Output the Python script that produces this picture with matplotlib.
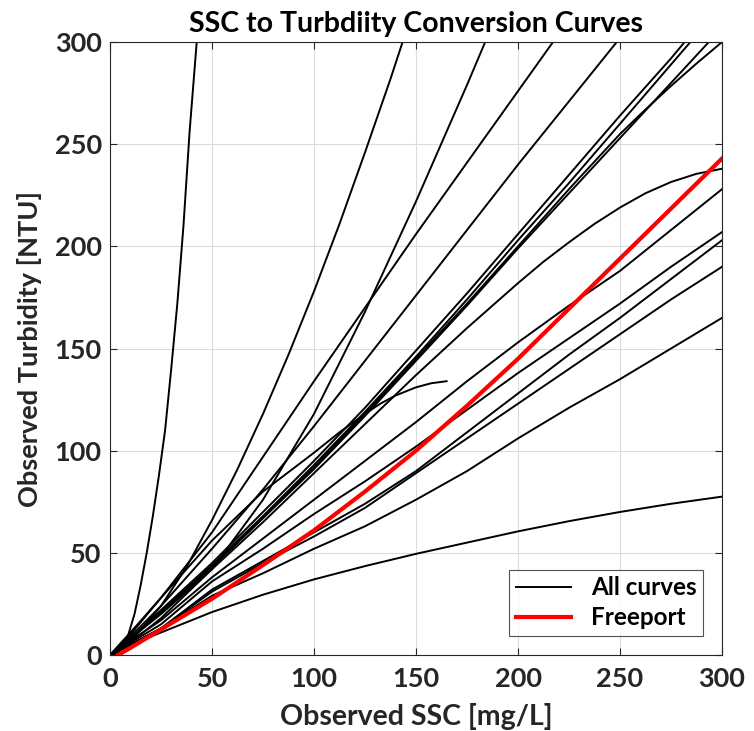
import matplotlib
matplotlib.use("Agg")
import matplotlib.pyplot as plt
import numpy as np

# ======================================================
# Setup
# ======================================================

plt.rcParams["font.family"] = ["Lato", "DejaVu Sans"]
plt.rcParams["font.weight"] = "bold"

AXIS_COLOR = "#262626"

# ======================================================
# DATA
# ======================================================

# common SSC grid for most curves [mg/L]
ssc = [0, 10, 25, 50, 75, 100, 125, 150, 175, 200, 225, 250, 275, 300]
# finer grid where curves bend more
ssc_fine = [0, 10, 25, 37.5, 50, 62.5, 75, 87.5, 100, 112.5, 125, 137.5, 150]

# steep curve on the far left
ssc_steep = [0, 3, 6, 9, 12, 15, 18, 21, 24, 27, 30, 33, 36, 39, 42.5]
ntu_steep = [0, 0.5, 3, 10, 20, 34, 50, 68, 88, 110, 140, 172, 210, 256, 300]

# curves that leave through the top of the plot
ntu_t2 = [0, 6.5, 24, 43, 66, 91, 118, 147, 178, 211, 246, 282, 320]
ntu_t3 = [0, 6, 18, 42, 76, 118, 168, 222, 279, 338]
ntu_t4 = [0, 10, 28, 60, 97, 134, 170, 206, 241, 276, 311]
ntu_t5 = [0, 9, 24, 52, 81, 112, 144, 176, 208, 240, 271, 302]
ntu_t6 = [0, 8, 22, 45, 70, 95, 121, 149, 177, 206, 235, 264, 292, 322]
ntu_t7 = [0, 8, 21, 44, 68, 93, 119, 146, 174, 203, 231, 260, 289, 318]
ntu_t8 = [0, 8, 21, 43, 67, 91, 117, 144, 171, 199, 226, 253, 280, 307]
ssc_t9 = [0, 10, 25, 50, 75, 100, 125, 150, 175, 200, 225, 250, 262.5, 275, 287.5, 300]
ntu_t9 = [0, 8, 21, 43, 67, 92, 118, 145, 172, 200, 228, 255, 267, 278.5, 289.5, 300]

# curve that stops at ~165 mg/L
ssc_short = [0, 10, 25, 50, 75, 100, 112.5, 125, 132.5, 140, 150, 157.5, 165]
ntu_short = [0, 11, 28, 56, 80, 99, 109, 118, 123, 127, 131, 133, 134]

# curves that leave through the right side
ssc_r238 = [0, 10, 25, 50, 75, 100, 125, 150, 175, 200, 212.5, 225, 237.5,
            250, 262.5, 275, 287.5, 300]
ntu_r238 = [0, 8, 20, 42, 65, 89, 113, 137, 160, 182, 192.5, 202, 211,
            219, 226, 231.5, 235.5, 238]
ntu_r228 = [0, 7, 17, 38, 57, 76, 95, 114, 134, 153, 171, 188, 208, 228]
ntu_r207 = [0, 6, 15, 36, 52, 69, 85, 102, 120, 138, 155, 172, 190, 207]
ntu_r203 = [0, 5, 13, 32, 46, 60, 74, 90, 109, 128, 147, 165, 184, 203]
ntu_r190 = [0, 5, 13, 31, 45, 58, 72, 89, 106, 123, 140, 157, 174, 190]
ntu_r164 = [0, 5, 13, 29, 40, 52, 63, 76, 90, 106, 121, 135, 150, 165]
ntu_r77 = [0, 5, 11, 21, 29.5, 37, 43.5, 49.5, 55, 60.5, 65.5, 70, 74, 77.5]

# Freeport curve
ssc_freeport = [4, 10, 25, 50, 75, 100, 125, 150, 175, 200, 225, 250, 275, 300]
ntu_freeport = [0, 3.5, 12.5, 27.5, 44, 61, 80, 100, 122, 145, 169.5, 194, 218.5, 243]

black_curves = [
    (ssc_steep, ntu_steep),
    (ssc_fine, ntu_t2),
    (ssc[:len(ntu_t3)], ntu_t3),
    (ssc[:len(ntu_t4)], ntu_t4),
    (ssc[:len(ntu_t5)], ntu_t5),
    (ssc, ntu_t6),
    (ssc, ntu_t7),
    (ssc, ntu_t8),
    (ssc_t9, ntu_t9),
    (ssc_short, ntu_short),
    (ssc_r238, ntu_r238),
    (ssc, ntu_r228),
    (ssc, ntu_r207),
    (ssc, ntu_r203),
    (ssc, ntu_r190),
    (ssc, ntu_r164),
    (ssc, ntu_r77),
]

# ======================================================
# PLOT
# ======================================================

fig = plt.figure(figsize=(7.54, 7.31), dpi=100)
ax = fig.add_axes([0.1459, 0.104, 0.9576 - 0.1459, 0.9425 - 0.104])

for i, (xv, yv) in enumerate(black_curves):
    ax.plot(xv, yv, color="black", linewidth=1.4,
            label="All curves" if i == 0 else None)

ax.plot(ssc_freeport, ntu_freeport, color="red", linewidth=3.0,
        label="Freeport")

ax.set_xlim(0, 300)
ax.set_ylim(0, 300)
ax.set_xticks(np.arange(0, 301, 50))
ax.set_yticks(np.arange(0, 301, 50))

ax.grid(True, color="#dcdcdc", linewidth=0.8)
ax.set_axisbelow(True)

ax.tick_params(direction="in", length=5, width=0.8, colors=AXIS_COLOR,
               labelsize=19.5, top=True, right=True)
ax.tick_params(axis="x", pad=9)
ax.tick_params(axis="y", pad=6)
for lab in ax.get_xticklabels() + ax.get_yticklabels():
    lab.set_fontweight("bold")
for sp in ax.spines.values():
    sp.set_color(AXIS_COLOR)
    sp.set_linewidth(0.8)

ax.set_xlabel("Observed SSC [mg/L]", fontsize=20.5, fontweight="bold",
              color=AXIS_COLOR, labelpad=8)
ax.set_ylabel("Observed Turbidity [NTU]", fontsize=19.5, fontweight="bold",
              color=AXIS_COLOR, labelpad=9)
ax.set_title("SSC to Turbdiity Conversion Curves", fontsize=20.5,
             fontweight="bold", color="black", pad=7)

leg = ax.legend(loc="lower right", frameon=True, fancybox=False,
                edgecolor=AXIS_COLOR, borderpad=0.25, labelspacing=0.3,
                handlelength=2.3, borderaxespad=0.8,
                prop={"weight": "bold", "size": 17.5})
leg.get_frame().set_linewidth(0.8)

fig.savefig("out.png", dpi=100)
